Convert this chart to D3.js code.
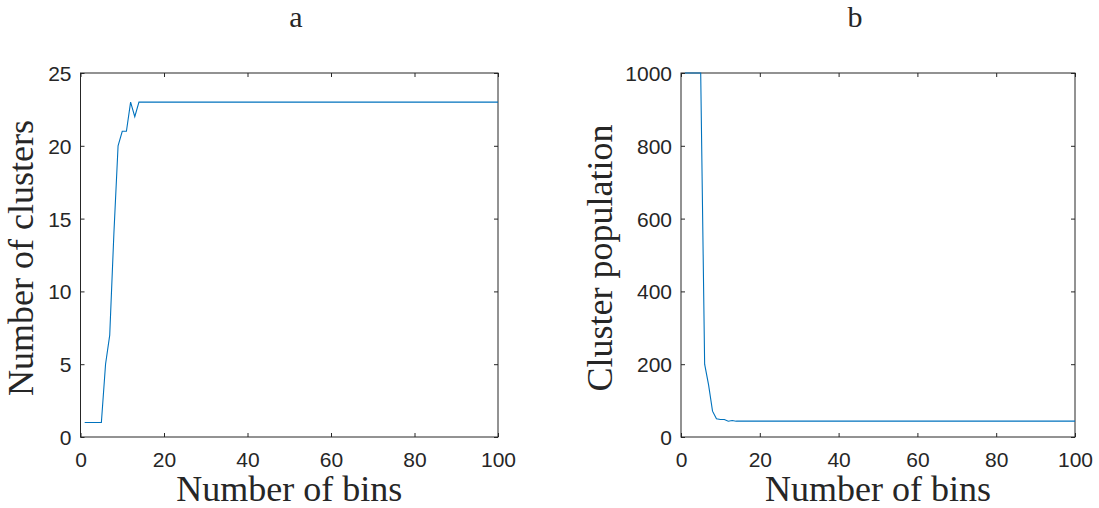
<!DOCTYPE html>
<html>
<head>
<meta charset="utf-8">
<script src="https://cdn.jsdelivr.net/npm/d3@7"></script>
<style>
  html, body { margin: 0; padding: 0; background: #fff; }
  svg { display: block; }
  .tick text { font-family: "Liberation Sans", Arial, sans-serif; font-size: 21px; fill: #262626; }
  .tick line { stroke: #262626; }
  .label { font-family: "Liberation Serif", "Times New Roman", serif; fill: #262626; }
</style>
</head>
<body>
<svg id="chart" width="1099" height="508"></svg>
<script>
"use strict";

/* ── Data: value for number of bins = 1 … 100 ─────────────── */
const clusterCounts = [
  1, 1, 1, 1, 1, 5, 7, 14, 20, 21,
  21, 23, 22, 23, 23, 23, 23, 23, 23, 23,
  23, 23, 23, 23, 23, 23, 23, 23, 23, 23,
  23, 23, 23, 23, 23, 23, 23, 23, 23, 23,
  23, 23, 23, 23, 23, 23, 23, 23, 23, 23,
  23, 23, 23, 23, 23, 23, 23, 23, 23, 23,
  23, 23, 23, 23, 23, 23, 23, 23, 23, 23,
  23, 23, 23, 23, 23, 23, 23, 23, 23, 23,
  23, 23, 23, 23, 23, 23, 23, 23, 23, 23,
  23, 23, 23, 23, 23, 23, 23, 23, 23, 23
];

const clusterPopulation = [
  1000, 1000, 1000, 1000, 1000, 200, 143, 71, 50, 48,
  48, 43.5, 45.5, 43.5, 43.5, 43.5, 43.5, 43.5, 43.5, 43.5,
  43.5, 43.5, 43.5, 43.5, 43.5, 43.5, 43.5, 43.5, 43.5, 43.5,
  43.5, 43.5, 43.5, 43.5, 43.5, 43.5, 43.5, 43.5, 43.5, 43.5,
  43.5, 43.5, 43.5, 43.5, 43.5, 43.5, 43.5, 43.5, 43.5, 43.5,
  43.5, 43.5, 43.5, 43.5, 43.5, 43.5, 43.5, 43.5, 43.5, 43.5,
  43.5, 43.5, 43.5, 43.5, 43.5, 43.5, 43.5, 43.5, 43.5, 43.5,
  43.5, 43.5, 43.5, 43.5, 43.5, 43.5, 43.5, 43.5, 43.5, 43.5,
  43.5, 43.5, 43.5, 43.5, 43.5, 43.5, 43.5, 43.5, 43.5, 43.5,
  43.5, 43.5, 43.5, 43.5, 43.5, 43.5, 43.5, 43.5, 43.5, 43.5
];

const xTicks = [0, 20, 40, 60, 80, 100];
const yTicksA = [0, 5, 10, 15, 20, 25];
const yTicksB = [0, 200, 400, 600, 800, 1000];

const panels = [
  { id: "a", title: "a", yLabel: "Number of clusters", values: clusterCounts,
    yMax: 25, yTicks: yTicksA, x0: 80.5, x1: 498, titleX: 296, labelX: 33 },
  { id: "b", title: "b", yLabel: "Cluster population", values: clusterPopulation,
    yMax: 1000, yTicks: yTicksB, x0: 681, x1: 1075, titleX: 855, labelX: 612 }
];

/* ── Layout ─────────────────────────────────────────────── */
const TOP = 73, BOTTOM = 437, TICK = 4;
const LINE_COLOR = "#0072BD", AXIS_COLOR = "#262626";

const svg = d3.select("#chart");

panels.forEach((p) => {
  const x = d3.scaleLinear().domain([0, 100]).range([p.x0, p.x1]);
  const y = d3.scaleLinear().domain([0, p.yMax]).range([BOTTOM, TOP]);
  const g = svg.append("g");

  /* Clip to axes box */
  g.append("clipPath").attr("id", "clip-" + p.id)
    .append("rect")
    .attr("x", p.x0).attr("y", TOP - 1)
    .attr("width", p.x1 - p.x0).attr("height", BOTTOM - TOP + 2);

  /* Axes (ticks point inward on all four sides) */
  g.append("g").attr("transform", `translate(0,${BOTTOM})`)
    .call(d3.axisBottom(x).tickValues(xTicks).tickSize(-TICK).tickPadding(15));
  g.append("g").attr("transform", `translate(0,${TOP})`)
    .call(d3.axisTop(x).tickValues(xTicks).tickSize(-TICK).tickFormat(""));
  g.append("g").attr("transform", `translate(${p.x0},0)`)
    .call(d3.axisLeft(y).tickValues(p.yTicks).tickSize(-TICK).tickPadding(9)
      .tickFormat(d3.format("d")))
    .call((a) => a.selectAll("text").attr("dy", "0.36em"));
  g.append("g").attr("transform", `translate(${p.x1},0)`)
    .call(d3.axisRight(y).tickValues(p.yTicks).tickSize(-TICK).tickFormat(""));
  g.selectAll(".domain").remove();

  /* Box */
  g.append("rect")
    .attr("x", p.x0).attr("y", TOP)
    .attr("width", p.x1 - p.x0).attr("height", BOTTOM - TOP)
    .attr("fill", "none").attr("stroke", AXIS_COLOR).attr("stroke-width", 1);

  /* Data line */
  const line = d3.line()
    .x((d, i) => x(i + 1))
    .y((d) => y(d));
  g.append("path")
    .datum(p.values)
    .attr("clip-path", `url(#clip-${p.id})`)
    .attr("fill", "none")
    .attr("stroke", LINE_COLOR)
    .attr("stroke-width", 1.1)
    .attr("d", line);

  /* Labels */
  const cx = (p.x0 + p.x1) / 2;
  g.append("text").attr("class", "label")
    .attr("x", p.titleX).attr("y", 27)
    .attr("text-anchor", "middle").attr("font-size", 30)
    .text(p.title);
  g.append("text").attr("class", "label")
    .attr("x", cx).attr("y", 501)
    .attr("text-anchor", "middle").attr("font-size", 36)
    .text("Number of bins");
  g.append("text").attr("class", "label")
    .attr("transform", `translate(${p.labelX},${(TOP + BOTTOM) / 2 + 3}) rotate(-90)`)
    .attr("text-anchor", "middle").attr("font-size", 36)
    .text(p.yLabel);
});
</script>
</body>
</html>
